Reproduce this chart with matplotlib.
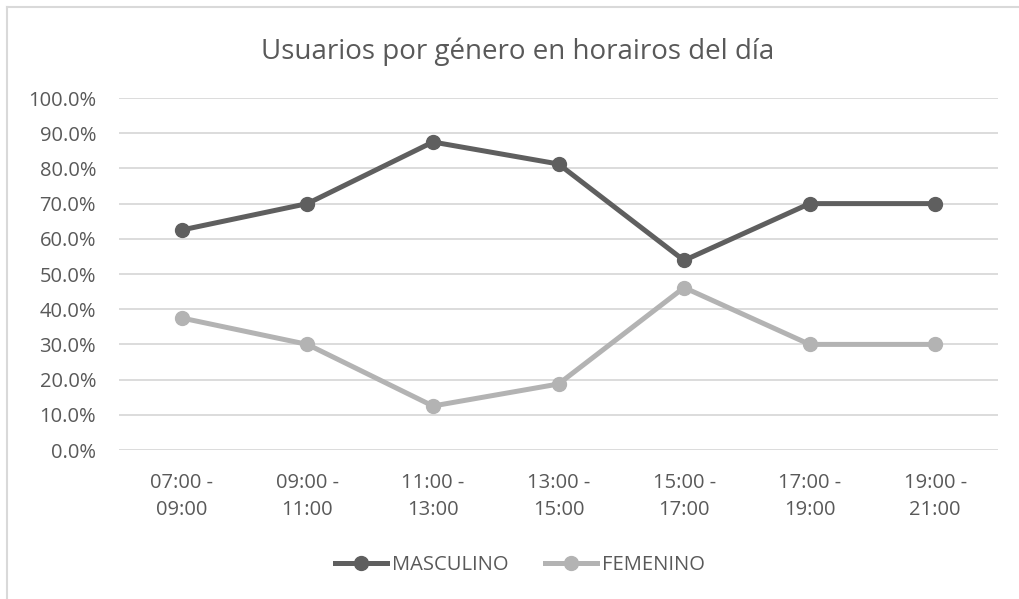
import matplotlib.pyplot as plt
from matplotlib.lines import Line2D
from matplotlib.ticker import PercentFormatter

plt.rcParams["font.family"] = ["Open Sans", "DejaVu Sans"]

franjas = ["07:00 -\n09:00", "09:00 -\n11:00", "11:00 -\n13:00", "13:00 -\n15:00",
           "15:00 -\n17:00", "17:00 -\n19:00", "19:00 -\n21:00"]
masculino = [0.625, 0.70, 0.875, 0.8125, 0.5385, 0.70, 0.70]
femenino = [0.375, 0.30, 0.125, 0.1875, 0.4615, 0.30, 0.30]

TEXT = "#595959"
DARK = "#5f5f5f"
LIGHT = "#b3b3b3"
GRID = "#d9d9d9"


def plot_chart():
    fig = plt.figure(figsize=(10.19, 5.99), dpi=100)
    ax = fig.add_axes([119 / 1019, 149 / 599, 879 / 1019, 352 / 599])

    x = list(range(len(franjas)))
    ax.plot(x, masculino, color=DARK, lw=3.6, marker="o", ms=10, label="MASCULINO", zorder=3)
    ax.plot(x, femenino, color=LIGHT, lw=3.6, marker="o", ms=10, label="FEMENINO", zorder=3)

    ax.set_xlim(-0.5, len(franjas) - 0.5)
    ax.set_ylim(0, 1.0)
    ax.set_yticks([i / 10 for i in range(11)])
    ax.yaxis.set_major_formatter(PercentFormatter(1.0, decimals=1))
    ax.set_xticks(x)
    ax.set_xticklabels(franjas, linespacing=1.5)
    ax.tick_params(length=0, labelsize=14.5, colors=TEXT, pad=16.5)
    ax.tick_params(axis="y", pad=16.5)
    ax.grid(axis="y", color=GRID, lw=1.3)
    ax.set_axisbelow(True)
    for s in ax.spines.values():
        s.set_visible(False)

    fig.suptitle("Usuarios por género en horairos del día", x=518 / 1019, y=1 - 52 / 599,
                 va="center", fontsize=20, color=TEXT)
    fig.legend(loc="center", bbox_to_anchor=(520 / 1019, 1 - 565 / 599), ncol=2, frameon=False,
               fontsize=14.5, labelcolor=TEXT, handlelength=2.6, handletextpad=0.25,
               columnspacing=1.8)

    # chart border like the original
    fig.add_artist(Line2D([7 / 1019, 7 / 1019], [0, 1 - 6.5 / 599], color=GRID, lw=1.5))
    fig.add_artist(Line2D([7 / 1019, 1], [1 - 6.5 / 599, 1 - 6.5 / 599], color=GRID, lw=1.5))

    fig.savefig("out.png", dpi=100)


if __name__ == "__main__":
    plot_chart()
